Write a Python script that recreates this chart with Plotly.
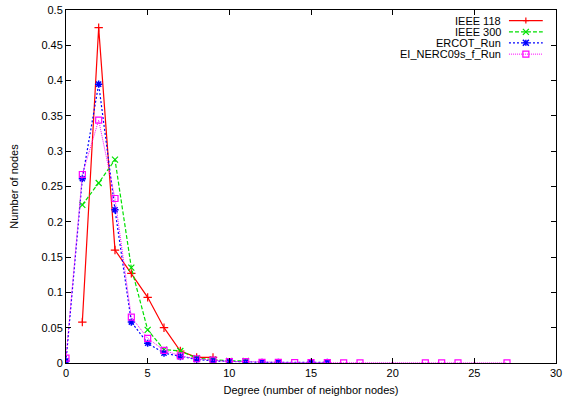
import plotly.graph_objects as go

deg_118 = [1, 2, 3, 4, 5, 6, 7, 8, 9]
val_118 = [0.058, 0.475, 0.16, 0.127, 0.093, 0.05, 0.017, 0.008, 0.008]

deg_300 = [1, 2, 3, 4, 5, 6, 7, 8, 9, 10, 11]
val_300 = [0.224, 0.255, 0.288, 0.135, 0.047, 0.019, 0.017, 0.007, 0.005, 0.003, 0.003]

deg_ercot = [0, 1, 2, 3, 4, 5, 6, 7, 8, 9, 10, 11, 12, 13, 15, 16]
val_ercot = [0.003, 0.261, 0.395, 0.217, 0.058, 0.028, 0.014, 0.009, 0.005, 0.003, 0.002,
             0.001, 0.001, 0.001, 0.001, 0.001]

deg_ei = [0, 1, 2, 3, 4, 5, 6, 7, 8, 9, 10, 11, 12, 13, 14, 15, 16, 17, 18, 22, 23, 24, 27]
val_ei = [0.007, 0.267, 0.344, 0.233, 0.065, 0.035, 0.018, 0.01, 0.006, 0.004, 0.002, 0.002,
          0.001, 0.001, 0.0005, 0.0005, 0.0005, 0.0003, 0.0003, 0.0002, 0.0002, 0.0002, 0.0001]

series_names = ["IEEE 118", "IEEE 300", "ERCOT_Run", "EI_NERC09s_f_Run"]

x_ticks = [0, 5, 10, 15, 20, 25, 30]
y_ticks = [0, 0.05, 0.1, 0.15, 0.2, 0.25, 0.3, 0.35, 0.4, 0.45, 0.5]

FONT = "Liberation Sans, Arial, sans-serif"

styles = [
    dict(color="#ff0000", dash="solid", width=1.2, symbol="cross-thin", mw=1.2),
    dict(color="#00e000", dash="4px,2px", width=1.2, symbol="x-thin", mw=1.2),
    dict(color="#0000ff", dash="2px,2px", width=1.2, symbol="asterisk-open", mw=1.5),
    dict(color="#ff00ff", dash="1px,1px", width=1.0, symbol="square-open", mw=1.2),
]

data = [(deg_118, val_118), (deg_300, val_300), (deg_ercot, val_ercot), (deg_ei, val_ei)]

fig = go.Figure()
for (xs, ys), name, st in zip(data, series_names, styles):
    fig.add_trace(go.Scatter(
        x=xs, y=ys, name=name, mode="lines+markers", showlegend=False,
        line=dict(color=st["color"], width=st["width"], dash=st["dash"]),
        marker=dict(symbol=st["symbol"], size=6, color=st["color"],
                    line=dict(color=st["color"], width=st["mw"]))))

# gnuplot-style key: right-aligned text, sample line to the right
text_x = 0.892
line_x0, line_x1 = 0.904, 0.973
mx = (line_x0 + line_x1) / 2
row_y = [0.970, 0.938, 0.907, 0.875]
dx, dy = 3.0 / 490, 3.0 / 353
shapes = []
annotations = []
for name, st, yy in zip(series_names, styles, row_y):
    annotations.append(dict(x=text_x, y=yy, xref="paper", yref="paper", text=name,
                            showarrow=False, xanchor="right", yanchor="middle",
                            font=dict(family=FONT, size=11, color="black")))
    shapes.append(dict(type="line", xref="paper", yref="paper", x0=line_x0, x1=line_x1,
                       y0=yy, y1=yy, line=dict(color=st["color"], width=st["width"], dash=st["dash"])))
    ln = dict(color=st["color"], width=st["mw"])
    if st["symbol"] == "cross-thin":
        shapes += [dict(type="line", xref="paper", yref="paper", x0=mx - dx, x1=mx + dx, y0=yy, y1=yy, line=ln),
                   dict(type="line", xref="paper", yref="paper", x0=mx, x1=mx, y0=yy - dy, y1=yy + dy, line=ln)]
    elif st["symbol"] == "x-thin":
        shapes += [dict(type="line", xref="paper", yref="paper", x0=mx - dx, x1=mx + dx, y0=yy - dy, y1=yy + dy, line=ln),
                   dict(type="line", xref="paper", yref="paper", x0=mx - dx, x1=mx + dx, y0=yy + dy, y1=yy - dy, line=ln)]
    elif st["symbol"] == "asterisk-open":
        shapes += [dict(type="line", xref="paper", yref="paper", x0=mx - dx, x1=mx + dx, y0=yy, y1=yy, line=ln),
                   dict(type="line", xref="paper", yref="paper", x0=mx, x1=mx, y0=yy - dy, y1=yy + dy, line=ln),
                   dict(type="line", xref="paper", yref="paper", x0=mx - dx, x1=mx + dx, y0=yy - dy, y1=yy + dy, line=ln),
                   dict(type="line", xref="paper", yref="paper", x0=mx - dx, x1=mx + dx, y0=yy + dy, y1=yy - dy, line=ln)]
    else:
        shapes.append(dict(type="rect", xref="paper", yref="paper", x0=mx - dx, x1=mx + dx,
                           y0=yy - dy, y1=yy + dy, line=ln, fillcolor="rgba(0,0,0,0)"))

axis_common = dict(showgrid=False, zeroline=False, showline=True, linecolor="black", linewidth=1,
                   mirror="ticks", ticks="inside", ticklen=5, tickcolor="black", automargin=False,
                   tickfont=dict(family=FONT, size=11, color="black"))

fig.update_xaxes(range=[0, 30], tickvals=x_ticks,
                 title=dict(text="Degree (number of neighbor nodes)", standoff=8,
                            font=dict(family=FONT, size=11, color="black")),
                 **axis_common)
fig.update_yaxes(range=[0, 0.5], tickvals=y_ticks,
                 title=dict(text="Number of nodes", standoff=20,
                            font=dict(family=FONT, size=11, color="black")),
                 **axis_common)

fig.update_layout(
    width=564, height=398,
    margin=dict(l=66, r=8, t=10, b=35),
    plot_bgcolor="white", paper_bgcolor="white",
    showlegend=False,
    shapes=shapes, annotations=annotations,
)

fig.write_html("out.html", config={"displayModeBar": False, "staticPlot": True},
               post_script="document.body.style.margin='0';document.body.style.overflow='hidden';")
